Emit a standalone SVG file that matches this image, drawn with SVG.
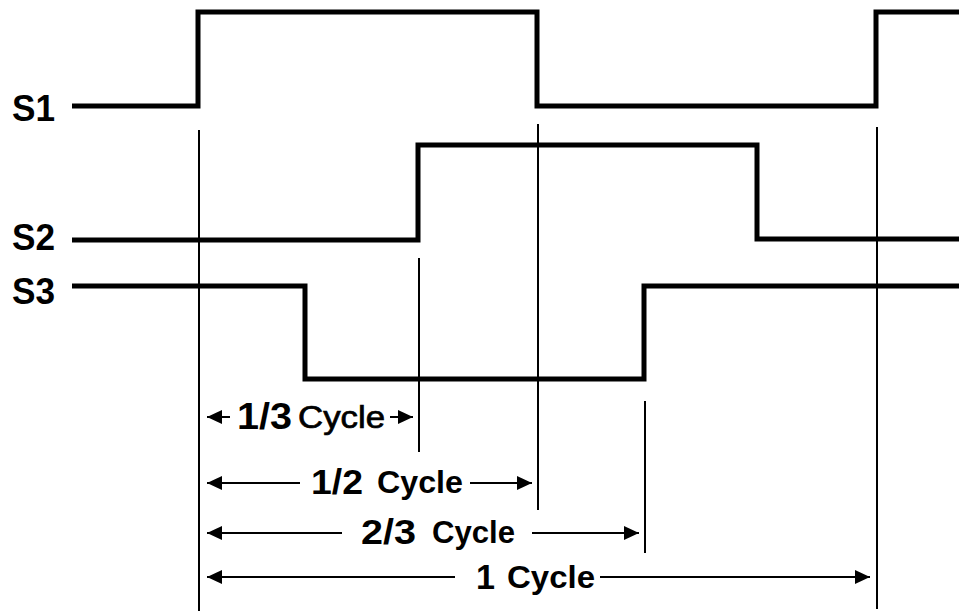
<svg xmlns="http://www.w3.org/2000/svg" width="959" height="611" viewBox="0 0 959 611">
<style>
.sig{fill:none;stroke:#000;stroke-width:5;stroke-linejoin:miter;stroke-linecap:butt}
.guide{fill:none;stroke:#000;stroke-width:2}
.dim{fill:none;stroke:#000;stroke-width:2}
.lbl{font-family:"Liberation Sans",Arial,sans-serif;font-weight:bold;fill:#000}
</style>
<defs>
<marker id="ah" viewBox="0 0 15 14" refX="15" refY="7" markerWidth="15" markerHeight="14" markerUnits="userSpaceOnUse" orient="auto-start-reverse">
<path d="M0,0 L15,7 L0,14 Z" fill="#000"/>
</marker>
</defs>
<rect width="959" height="611" fill="#fff"/>
<g id="S1">
<text class="lbl" x="12" y="121" font-size="37" textLength="43" lengthAdjust="spacingAndGlyphs">S1</text>
<path class="sig" d="M72,106 H198 V12 H537 V106 H876 V12 H959"/>
</g>
<g id="S2">
<text class="lbl" x="12" y="250" font-size="37" textLength="43" lengthAdjust="spacingAndGlyphs">S2</text>
<path class="sig" d="M72,240 H418 V145 H757 V239 H959"/>
</g>
<g id="S3">
<text class="lbl" x="12" y="304" font-size="37" textLength="43" lengthAdjust="spacingAndGlyphs">S3</text>
<path class="sig" d="M72,286 H305 V379 H644 V286 H959"/>
</g>
<g id="guides">
<line class="guide" x1="199" y1="130" x2="199" y2="611"/>
<line class="guide" x1="538" y1="124" x2="538" y2="510"/>
<line class="guide" x1="877" y1="127" x2="877" y2="609"/>
<line class="guide" x1="419" y1="258" x2="419" y2="452"/>
<line class="guide" x1="645" y1="401" x2="645" y2="553"/>
</g>
<g id="connectors">
<line class="dim" x1="230" y1="417" x2="207" y2="417" marker-end="url(#ah)"/>
<line class="dim" x1="390" y1="417" x2="413" y2="417" marker-end="url(#ah)"/>
<line class="dim" x1="300" y1="483" x2="207" y2="483" marker-end="url(#ah)"/>
<line class="dim" x1="470" y1="483" x2="532" y2="483" marker-end="url(#ah)"/>
<line class="dim" x1="342" y1="533" x2="207" y2="533" marker-end="url(#ah)"/>
<line class="dim" x1="532" y1="533" x2="639" y2="533" marker-end="url(#ah)"/>
<line class="dim" x1="455" y1="577" x2="207" y2="577" marker-end="url(#ah)"/>
<line class="dim" x1="600" y1="577" x2="870" y2="577" marker-end="url(#ah)"/>
</g>
<g id="label-13">
<text class="lbl" x="237" y="429" font-size="37" textLength="55" lengthAdjust="spacingAndGlyphs">1/3</text>
<text class="lbl" x="298" y="428" font-size="31" style="font-weight:normal;stroke:#000;stroke-width:0.7" textLength="87" lengthAdjust="spacingAndGlyphs">Cycle</text>
</g>
<g id="label-12">
<text class="lbl" x="311" y="494" font-size="35" textLength="52" lengthAdjust="spacingAndGlyphs">1/2</text>
<text class="lbl" x="377" y="493" font-size="32" textLength="86" lengthAdjust="spacingAndGlyphs">Cycle</text>
</g>
<g id="label-23">
<text class="lbl" x="361" y="544" font-size="35" textLength="55" lengthAdjust="spacingAndGlyphs">2/3</text>
<text class="lbl" x="432" y="543" font-size="32" textLength="83" lengthAdjust="spacingAndGlyphs">Cycle</text>
</g>
<g id="label-1">
<text class="lbl" x="476" y="589" font-size="35" textLength="19" lengthAdjust="spacingAndGlyphs">1</text>
<text class="lbl" x="507" y="588" font-size="32" textLength="88" lengthAdjust="spacingAndGlyphs">Cycle</text>
</g>
</svg>
